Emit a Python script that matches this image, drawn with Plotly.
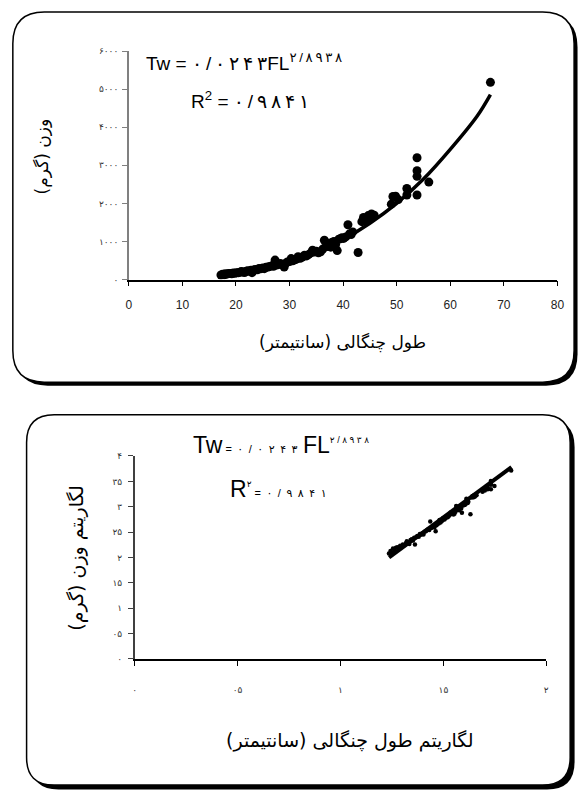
import numpy as np
import plotly.graph_objects as go

# ---------------- data ----------------
fork_length = [17.2, 17.5, 17.8, 18.0, 18.3, 18.6, 18.9, 19.2, 19.5, 19.8, 20.1, 20.4, 20.8, 21.0,
               21.3, 21.6, 21.9, 22.2, 22.5, 22.8, 23.0, 23.3, 23.6, 24.0, 24.3, 24.6, 25.0, 25.3,
               25.6, 26.0, 26.3, 26.7, 27.0, 27.3, 27.6, 28.0, 28.3, 28.6, 29.0, 29.3, 29.6, 30.0,
               30.3, 30.6, 31.0, 31.3, 31.6, 32.0, 32.4, 32.8, 33.2, 33.6, 34.0, 34.3, 34.6, 35.0,
               35.4, 35.8, 36.2, 36.5, 36.8, 37.1, 37.4, 37.7, 38.0, 38.3, 38.6, 38.9, 39.2, 39.5,
               39.8, 40.1, 40.5, 40.9, 41.2, 41.5, 41.8, 42.8, 43.5, 43.8, 44.1, 44.4, 44.7, 45.0,
               45.3, 45.8, 49.0, 49.3, 49.8, 50.3, 51.9, 51.9, 53.8, 53.8, 53.8, 53.8, 56.0, 67.5]
weight = [120, 135, 125, 150, 140, 155, 160, 150, 170, 165, 180, 175, 190, 210,
          200, 185, 220, 230, 215, 245, 180, 250, 265, 255, 290, 280, 300, 285,
          320, 330, 345, 360, 350, 510, 380, 400, 420, 390, 330, 430, 460, 470,
          550, 490, 520, 540, 600, 560, 590, 640, 620, 660, 700, 770, 720, 740,
          700, 730, 800, 1030, 860, 900, 950, 850, 980, 1000, 920, 760, 1060, 1070,
          1100, 1080, 1120, 1440, 1200, 1180, 1250, 710, 1520, 1630, 1590, 1540, 1680, 1600,
          1720, 1690, 1980, 2180, 2190, 2100, 2390, 2220, 3200, 2860, 2710, 2220, 2560, 5180]

# power trend line as drawn in the upper chart
trend_fl = [17, 20, 25, 30, 35, 40, 45, 50, 55, 60, 65, 67.5]
trend_w = [95, 140, 270, 460, 715, 1050, 1480, 2000, 2640, 3420, 4290, 4860]

# straight trend line as drawn in the lower (log) chart
log_trend_x = [1.236, 1.831]
log_trend_y = [2.0, 3.78]

top_y_ticks = [0, 1000, 2000, 3000, 4000, 5000, 6000]
top_y_text = ["۰", "۱۰۰۰", "۲۰۰۰", "۳۰۰۰", "۴۰۰۰", "۵۰۰۰", "۶۰۰۰"]
top_x_ticks = [0, 10, 20, 30, 40, 50, 60, 70, 80]

bot_y_ticks = [0, 0.5, 1, 1.5, 2, 2.5, 3, 3.5, 4]
bot_y_text = ["۰", "۰۵", "۱", "۱۵", "۲", "۲۵", "۳", "۳۵", "۴"]
bot_x_ticks = [0, 0.5, 1, 1.5, 2]
bot_x_text = ["۰", "۰۵", "۱", "۱۵", "۲"]

log_fl = np.log10(fork_length)
log_w = np.log10(weight)

# ---------------- figure ----------------
W, H = 587, 798
def px(x):
    return x / W
def py(y):
    return 1 - y / H

fig = go.Figure()

fig.add_trace(go.Scatter(x=fork_length, y=weight, mode="markers",
                         marker=dict(color="black", size=9), xaxis="x", yaxis="y",
                         showlegend=False))
fig.add_trace(go.Scatter(x=trend_fl, y=trend_w, mode="lines", line=dict(color="black", width=3.5, shape="spline"),
                         xaxis="x", yaxis="y", showlegend=False))
fig.add_trace(go.Scatter(x=log_fl, y=log_w, mode="markers",
                         marker=dict(color="black", size=4.5), xaxis="x2", yaxis="y2",
                         showlegend=False))
fig.add_trace(go.Scatter(x=log_trend_x, y=log_trend_y, mode="lines", line=dict(color="black", width=4),
                         xaxis="x2", yaxis="y2", showlegend=False))

pfont = "DejaVu Sans"
afont = "Liberation Sans, Arial, DejaVu Sans"

fig.update_layout(
    width=W, height=H, autosize=False,
    margin=dict(l=0, r=0, t=0, b=0),
    paper_bgcolor="white", plot_bgcolor="rgba(0,0,0,0)",
    xaxis=dict(domain=[px(128), px(564)], range=[0, 80], tickvals=top_x_ticks,
               showgrid=False, zeroline=False, showline=True, linecolor="black", linewidth=1.5,
               ticks="outside", ticklen=5, tickcolor="black", ticklabelstandoff=8,
               tickfont=dict(family=afont, size=12, color="#222"), anchor="y"),
    yaxis=dict(domain=[py(278), py(46.7)], range=[0, 6000], tickvals=top_y_ticks, ticktext=top_y_text,
               showgrid=False, zeroline=False, showline=True, linecolor="#808080", linewidth=1.5,
               ticks="outside", ticklen=5, tickcolor="#808080", ticklabelstandoff=2,
               tickfont=dict(family=pfont, size=9, color="#333"), anchor="x"),
    xaxis2=dict(domain=[px(134), px(552.7)], range=[0, 2], tickvals=bot_x_ticks, ticktext=bot_x_text,
                showgrid=False, zeroline=False, showline=True, linecolor="black", linewidth=1.5,
                ticks="outside", ticklen=5, tickcolor="black", ticklabelstandoff=16,
                tickfont=dict(family=pfont, size=9, color="#333"), anchor="y2"),
    yaxis2=dict(domain=[py(662.3), py(456.7)], range=[0, 4], tickvals=bot_y_ticks, ticktext=bot_y_text,
                showgrid=False, zeroline=False, showline=True, linecolor="#404040", linewidth=1.5,
                ticks="outside", ticklen=5, tickcolor="#404040", ticklabelstandoff=4,
                tickfont=dict(family=pfont, size=9, color="#333"), anchor="x2"),
)

# ---------------- rounded panels ----------------
def rounded(x0, y0, x1, y1, r):
    pts = [
        f"M {px(x0 + r)},{py(y0)}",
        f"L {px(x1 - r)},{py(y0)}",
        f"Q {px(x1)},{py(y0)} {px(x1)},{py(y0 + r)}",
        f"L {px(x1)},{py(y1 - r)}",
        f"Q {px(x1)},{py(y1)} {px(x1 - r)},{py(y1)}",
        f"L {px(x0 + r)},{py(y1)}",
        f"Q {px(x0)},{py(y1)} {px(x0)},{py(y1 - r)}",
        f"L {px(x0)},{py(y0 + r)}",
        f"Q {px(x0)},{py(y0)} {px(x0 + r)},{py(y0)}",
        "Z",
    ]
    return " ".join(pts)

shapes = []
for (x0, y0, x1, y1, r, off) in [(10, 7, 581, 382, 32, 3.5), (24, 415, 577, 790, 28, 4.5)]:
    shapes.append(dict(type="path", path=rounded(x0 + off, y0 + off, x1 + off, y1 + off, r),
                       xref="paper", yref="paper", fillcolor="black", line=dict(width=0), layer="below"))
    shapes.append(dict(type="path", path=rounded(x0, y0, x1, y1, r),
                       xref="paper", yref="paper", fillcolor="white",
                       line=dict(color="black", width=1.5), layer="below"))
fig.update_layout(shapes=shapes)

# ---------------- texts ----------------
T = "\u2009"   # thin space
EN = "\u2002"  # en space
def spaced(s, sep):
    return sep.join(list(s))

ann = []
# upper chart
ann.append(dict(x=px(143), y=py(58), xref="paper", yref="paper", xanchor="left", yanchor="middle",
                text="Tw = " + spaced("۰/۰۲۴۳", T) + "FL<sup>" + spaced("۲/۸۹۳۸", T) + "</sup>",
                showarrow=False, font=dict(family=afont, size=19, color="black")))
ann.append(dict(x=px(189), y=py(96), xref="paper", yref="paper", xanchor="left", yanchor="middle",
                text="R<sup>2</sup> = " + spaced("۰/۹۸۴۱", T), showarrow=False,
                font=dict(family=afont, size=19, color="black")))
ann.append(dict(x=px(345), y=py(342), xref="paper", yref="paper", xanchor="center", yanchor="middle",
                text="طول چنگالی (سانتیمتر)", showarrow=False,
                font=dict(family=pfont, size=17, color="black")))
ann.append(dict(x=px(40), y=py(153), xref="paper", yref="paper", xanchor="center", yanchor="middle",
                text="وزن (گرم)", textangle=-90, showarrow=False,
                font=dict(family=pfont, size=17, color="black")))
# lower chart
ann.append(dict(x=px(191), y=py(446), xref="paper", yref="paper", xanchor="left", yanchor="middle",
                text="Tw<span style='font-size:11px'> =" + EN + spaced("۰/۰۲۴۳", EN) + EN + "</span>FL"
                     "<sup><span style='font-size:9px'>" + spaced("۲/۸۹۳۸", " ") + "</span></sup>",
                showarrow=False, font=dict(family=afont, size=23, color="black")))
ann.append(dict(x=px(229), y=py(490), xref="paper", yref="paper", xanchor="left", yanchor="middle",
                text="R<sup><span style='font-size:9px'>۲</span></sup>"
                     "<span style='font-size:11px'> =" + EN + spaced("۰/۹۸۴۱", EN) + "</span>",
                showarrow=False, font=dict(family=afont, size=23, color="black")))
ann.append(dict(x=px(353), y=py(745), xref="paper", yref="paper", xanchor="center", yanchor="middle",
                text="لگاریتم طول چنگالی (سانتیمتر)", showarrow=False,
                font=dict(family=pfont, size=19, color="black")))
ann.append(dict(x=px(75), y=py(560), xref="paper", yref="paper", xanchor="center", yanchor="middle",
                text="لگاریتم وزن (گرم)", textangle=-90, showarrow=False,
                font=dict(family=pfont, size=19, color="black")))
fig.update_layout(annotations=ann)

post = (
    "document.documentElement.style.margin='0';document.documentElement.style.padding='0';"
    "document.documentElement.style.overflow='hidden';"
    "document.body.style.margin='0';document.body.style.padding='0';document.body.style.overflow='hidden';"
    "var gd=document.getElementById('{plot_id}');gd.style.position='fixed';gd.style.left='0px';gd.style.top='0px';"
)
fig.write_html("out.html", config={"displayModeBar": False}, post_script=post)
